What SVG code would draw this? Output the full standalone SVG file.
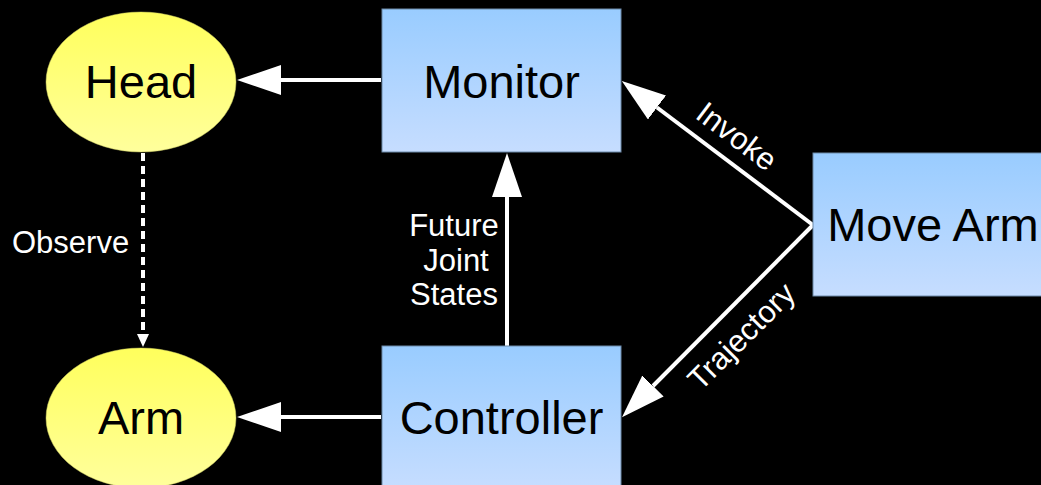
<svg xmlns="http://www.w3.org/2000/svg" width="1041" height="485" viewBox="0 0 1041 485">
<style>
.node-text{font-family:"Liberation Sans",Arial,sans-serif;font-size:47px;fill:#000;text-anchor:middle}
.label{font-family:"Liberation Sans",Arial,sans-serif;font-size:31px;fill:#fff}
.box{fill:url(#blue);stroke:#6d89a8;stroke-width:1}
.oval{fill:url(#yellow);stroke:#c8c860;stroke-width:0.5}
.conn{stroke:#fff;stroke-width:4;fill:none}
</style>
<defs>
<linearGradient id="blue" x1="0" y1="0" x2="0" y2="1">
<stop offset="0" stop-color="#99ccff"/>
<stop offset="1" stop-color="#c6ddff"/>
</linearGradient>
<linearGradient id="yellow" x1="0" y1="0" x2="0" y2="1">
<stop offset="0" stop-color="#ffff5c"/>
<stop offset="1" stop-color="#ffff9c"/>
</linearGradient>
<marker id="big" viewBox="0 -15 44 30" markerWidth="44" markerHeight="30" refX="0" refY="0" markerUnits="userSpaceOnUse" orient="auto">
<path d="M0,-15 L44,0 L0,15 z" fill="#fff"/>
</marker>
<marker id="small" viewBox="0 -6 13 12" markerWidth="13" markerHeight="12" refX="0" refY="0" markerUnits="userSpaceOnUse" orient="auto">
<path d="M0,-6 L13,0 L0,6 z" fill="#fff"/>
</marker>
</defs>
<rect x="0" y="0" width="1041" height="485" fill="#000"/>
<g id="connectors">
<line class="conn" x1="381" y1="80" x2="281" y2="80" marker-end="url(#big)"/>
<line class="conn" x1="381" y1="417" x2="281" y2="417" marker-end="url(#big)"/>
<line class="conn" x1="507" y1="346" x2="507" y2="197" marker-end="url(#big)"/>
<line class="conn" x1="143" y1="153" x2="143" y2="334" stroke-width="3.5" stroke-dasharray="8 5" marker-end="url(#small)"/>
<line class="conn" x1="813" y1="225" x2="657" y2="107.5" marker-end="url(#big)"/>
<line class="conn" x1="813" y1="225" x2="653" y2="386" marker-end="url(#big)"/>
<text class="label" x="12" y="253">Observe</text>
<text class="label" text-anchor="middle" x="454" y="236">Future</text>
<text class="label" text-anchor="middle" x="456" y="271">Joint</text>
<text class="label" text-anchor="middle" x="454" y="305">States</text>
<text class="label" text-anchor="middle" x="737" y="147" transform="rotate(37 737 136)">Invoke</text>
<text class="label" text-anchor="middle" x="741" y="347" transform="rotate(-45 741 336)">Trajectory</text>
</g>
<g id="head">
<ellipse class="oval" cx="141" cy="82" rx="95" ry="70"/>
<text class="node-text" x="141" y="98">Head</text>
</g>
<g id="arm">
<ellipse class="oval" cx="141" cy="418" rx="95" ry="70"/>
<text class="node-text" x="141" y="434">Arm</text>
</g>
<g id="monitor">
<rect class="box" x="382" y="9" width="239" height="143"/>
<text class="node-text" x="501.5" y="98">Monitor</text>
</g>
<g id="controller">
<rect class="box" x="382" y="346" width="239" height="143"/>
<text class="node-text" x="501.5" y="434">Controller</text>
</g>
<g id="move-arm">
<rect class="box" x="813" y="153" width="240" height="143"/>
<text class="node-text" x="933" y="241">Move Arm</text>
</g>
</svg>
